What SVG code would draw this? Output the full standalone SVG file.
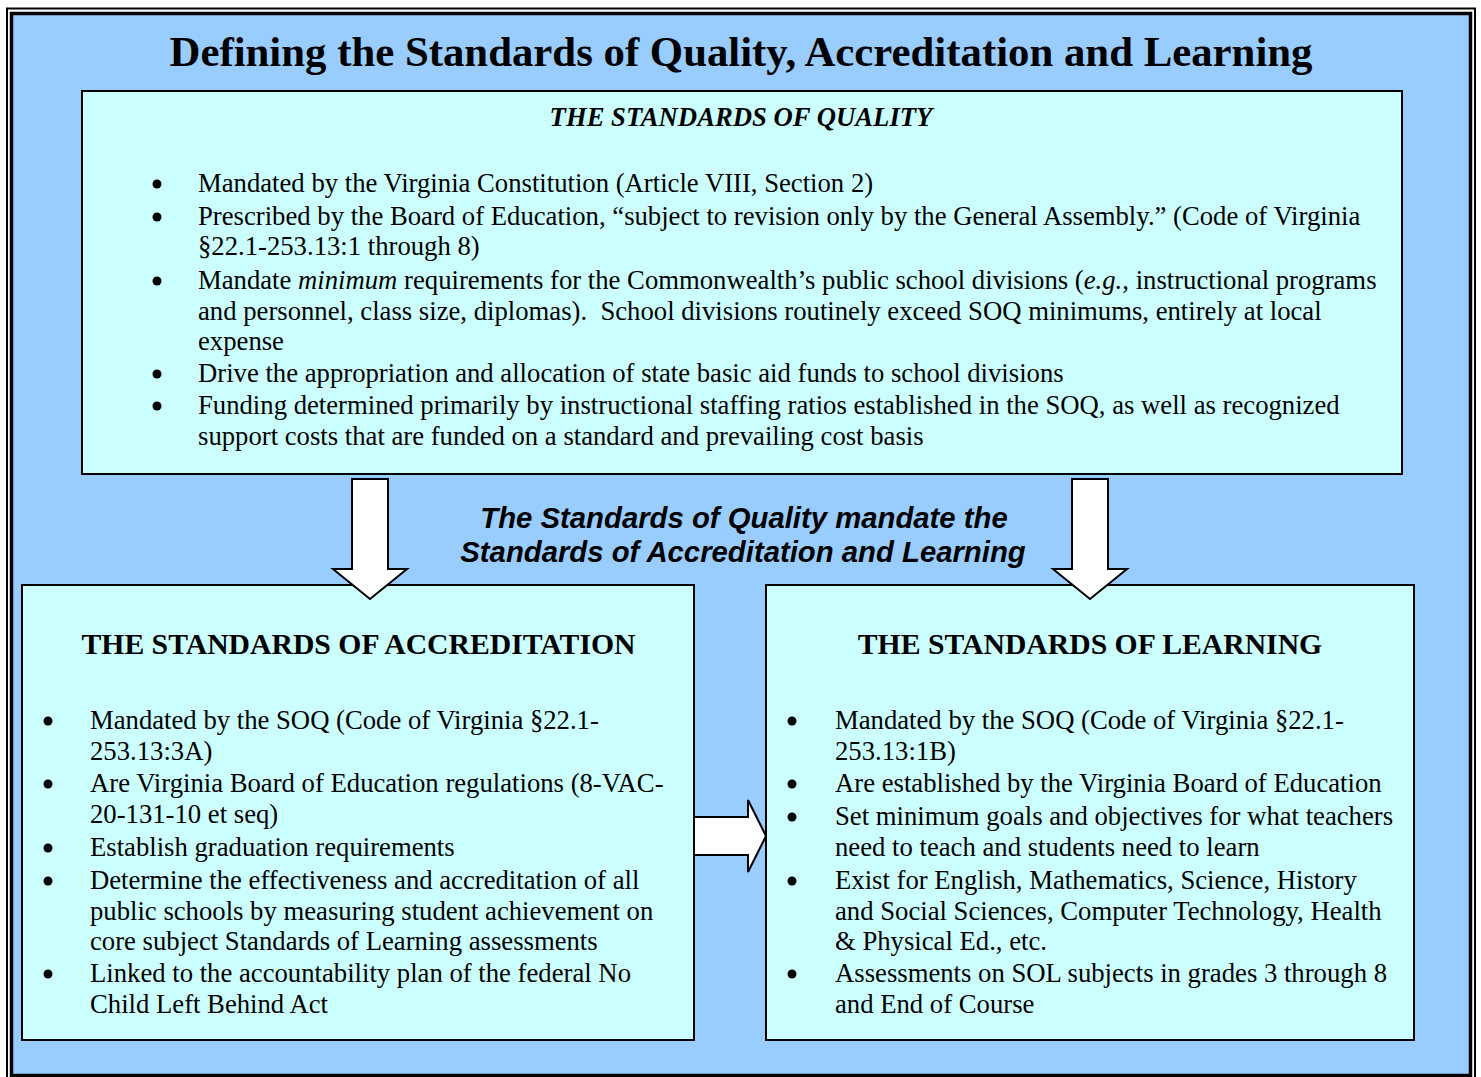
<svg xmlns="http://www.w3.org/2000/svg" width="1481" height="1077" viewBox="0 0 1481 1077">
  <style>
    .box { fill: #CCFFFF; stroke: #000; stroke-width: 2; }
    .arrow { fill: #FFFFFF; stroke: #000; stroke-width: 2; stroke-linejoin: miter; }
    .dot { fill: #000; }
    .t { font-family: "Liberation Serif", "Times New Roman", serif; font-size: 26.7px; fill: #000; }
    .h { font-family: "Liberation Serif", "Times New Roman", serif; font-size: 29.7px; font-weight: bold; fill: #000; }
    .hq { font-family: "Liberation Serif", "Times New Roman", serif; font-size: 26.7px; font-weight: bold; font-style: italic; fill: #000; }
    .title { font-family: "Liberation Serif", "Times New Roman", serif; font-size: 42.8px; font-weight: bold; fill: #000; }
    .mid { font-family: "Liberation Sans", Arial, sans-serif; font-size: 29.3px; font-weight: bold; font-style: italic; fill: #000; }
  </style>

  <!-- page frame: thin outer rule, thick inner rule -->
  <rect x="0" y="0" width="1481" height="1077" fill="#FFFFFF"/>
  <rect x="7" y="8.5" width="1468" height="1075" fill="#FFFFFF" stroke="#000" stroke-width="2"/>
  <rect x="11.5" y="13.5" width="1459" height="1062" fill="#99CCFF" stroke="#000" stroke-width="3.5"/>

  <text class="title" x="741" y="66" text-anchor="middle">Defining the Standards of Quality, Accreditation and Learning</text>

  <g id="soq">
    <rect class="box" x="82" y="91" width="1320" height="383"/>
    <text class="hq" x="741" y="126" text-anchor="middle">THE STANDARDS OF QUALITY</text>
    <circle class="dot" cx="157" cy="184" r="4.5"/>
    <circle class="dot" cx="157" cy="217" r="4.5"/>
    <circle class="dot" cx="157" cy="281" r="4.5"/>
    <circle class="dot" cx="157" cy="374" r="4.5"/>
    <circle class="dot" cx="157" cy="406" r="4.5"/>
    <g class="t">
      <text x="198" y="192">Mandated by the Virginia Constitution (Article VIII, Section 2)</text>
      <text x="198" y="225">Prescribed by the Board of Education, “subject to revision only by the General Assembly.” (Code of Virginia</text>
      <text x="198" y="255">§22.1-253.13:1 through 8)</text>
      <text x="198" y="289">Mandate <tspan font-style="italic">minimum</tspan> requirements for the Commonwealth’s public school divisions (<tspan font-style="italic">e.g.</tspan>, instructional programs</text>
      <text x="198" y="320" xml:space="preserve">and personnel, class size, diplomas).  School divisions routinely exceed SOQ minimums, entirely at local</text>
      <text x="198" y="350">expense</text>
      <text x="198" y="382">Drive the appropriation and allocation of state basic aid funds to school divisions</text>
      <text x="198" y="414">Funding determined primarily by instructional staffing ratios established in the SOQ, as well as recognized</text>
      <text x="198" y="445">support costs that are funded on a standard and prevailing cost basis</text>
    </g>
  </g>

  <text class="mid" x="744" y="528" text-anchor="middle">The Standards of Quality mandate the</text>
  <text class="mid" x="743" y="562" text-anchor="middle">Standards of Accreditation and Learning</text>

  <g id="soa">
    <rect class="box" x="22" y="585" width="672" height="455"/>
    <text class="h" x="358.5" y="654" text-anchor="middle">THE STANDARDS OF ACCREDITATION</text>
    <circle class="dot" cx="48" cy="721" r="4.5"/>
    <circle class="dot" cx="48" cy="784" r="4.5"/>
    <circle class="dot" cx="48" cy="848" r="4.5"/>
    <circle class="dot" cx="48" cy="881" r="4.5"/>
    <circle class="dot" cx="48" cy="974" r="4.5"/>
    <g class="t">
      <text x="90" y="729">Mandated by the SOQ (Code of Virginia §22.1-</text>
      <text x="90" y="760">253.13:3A)</text>
      <text x="90" y="792">Are Virginia Board of Education regulations (8-VAC-</text>
      <text x="90" y="823">20-131-10 et seq)</text>
      <text x="90" y="856">Establish graduation requirements</text>
      <text x="90" y="889">Determine the effectiveness and accreditation of all</text>
      <text x="90" y="920">public schools by measuring student achievement on</text>
      <text x="90" y="950">core subject Standards of Learning assessments</text>
      <text x="90" y="982">Linked to the accountability plan of the federal No</text>
      <text x="90" y="1013">Child Left Behind Act</text>
    </g>
  </g>

  <g id="sol">
    <rect class="box" x="766" y="585" width="648" height="455"/>
    <text class="h" x="1090" y="654" text-anchor="middle">THE STANDARDS OF LEARNING</text>
    <circle class="dot" cx="792" cy="721" r="4.5"/>
    <circle class="dot" cx="792" cy="784" r="4.5"/>
    <circle class="dot" cx="792" cy="817" r="4.5"/>
    <circle class="dot" cx="792" cy="881" r="4.5"/>
    <circle class="dot" cx="792" cy="974" r="4.5"/>
    <g class="t">
      <text x="835" y="729">Mandated by the SOQ (Code of Virginia §22.1-</text>
      <text x="835" y="760">253.13:1B)</text>
      <text x="835" y="792">Are established by the Virginia Board of Education</text>
      <text x="835" y="825">Set minimum goals and objectives for what teachers</text>
      <text x="835" y="856">need to teach and students need to learn</text>
      <text x="835" y="889">Exist for English, Mathematics, Science, History</text>
      <text x="835" y="920">and Social Sciences, Computer Technology, Health</text>
      <text x="835" y="950">&amp; Physical Ed., etc.</text>
      <text x="835" y="982">Assessments on SOL subjects in grades 3 through 8</text>
      <text x="835" y="1013">and End of Course</text>
    </g>
  </g>

  <!-- block arrows linking the standards -->
  <g id="connectors">
    <polygon class="arrow" points="352,479 388,479 388,569 407,569 370,599 333,569 352,569"/>
    <polygon class="arrow" points="1072,479 1108,479 1108,569 1127,569 1090,599 1053,569 1072,569"/>
    <polygon class="arrow" points="694,817 748,817 748,800 766,836 748,872 748,855 694,855"/>
  </g>
</svg>
